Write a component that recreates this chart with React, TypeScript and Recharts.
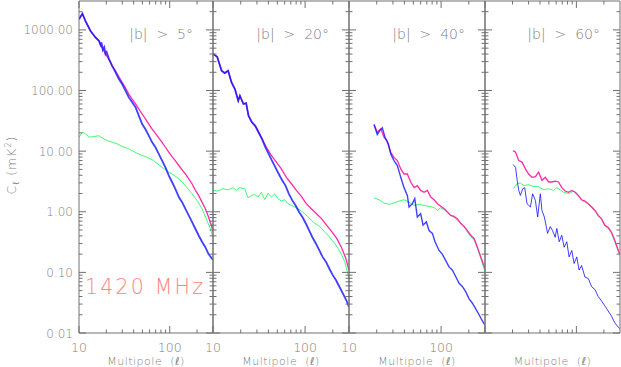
import { Line, LineChart, XAxis, YAxis } from 'recharts'

// 4 panels of the 1420 MHz angular power spectrum, one per latitude cut.
// Each series is a list of [multipole, C_l in mK^2].
type Pt = [number, number]

const p1Blue: Pt[] = [
  [10, 1500], [10.9, 1850], [11.8, 1400], [13.4, 960], [15.2, 750], [16.6, 660], [17.3, 560],
  [17.7, 620], [18.3, 470], [19.0, 520], [19.6, 400], [20.2, 430], [21.4, 330], [23.2, 256],
  [25.3, 199], [27.5, 155], [29.9, 128], [32.6, 99], [35.4, 77], [38.5, 64], [42, 53],
  [45.6, 38.5], [49.7, 28], [54, 23], [58.8, 18], [64, 14], [69.6, 11.6], [75.7, 9.0],
  [82.4, 7.0], [89.7, 5.4], [97.5, 4.0], [106, 3.1], [115, 2.4], [126, 1.75], [137, 1.44],
  [149, 1.12], [162, 0.87], [176, 0.68], [191, 0.53], [208, 0.41], [227, 0.32], [247, 0.26],
  [268, 0.2], [300, 0.16],
]
const p1Pink: Pt[] = [
  [10, 1500], [10.9, 1850], [11.8, 1400], [13.4, 960], [15.2, 750], [16.6, 660], [18, 510],
  [19.6, 400], [21.4, 330], [23.2, 256], [25.3, 212], [27.5, 169], [29.9, 136], [32.6, 110],
  [35.4, 87.5], [38.5, 72], [42, 60], [45.6, 50], [49.7, 41], [54, 34], [58.8, 28], [64, 23],
  [69.6, 19.7], [75.7, 16.5], [82.4, 14], [89.7, 11.6], [97.5, 9.6], [106, 8.1], [115, 7.0],
  [126, 5.8], [137, 4.9], [149, 4.2], [162, 3.5], [176, 2.9], [191, 2.3], [208, 1.86],
  [227, 1.44], [247, 1.12], [268, 0.82], [300, 0.49],
]
const p1Green: Pt[] = [
  [10, 17], [10.9, 20.5], [11.8, 19.3], [12.9, 17], [14.6, 17.4], [16.6, 18], [18, 16.5],
  [20.5, 14.9], [23.2, 14], [26.4, 13.2], [29.9, 11.9], [34, 11.2], [38.5, 10.2], [43.8, 9.2],
  [49.7, 8.5], [56.4, 7.9], [64, 7.2], [72.6, 6.3], [82.4, 5.4], [93.5, 4.7], [106, 4.2],
  [120, 3.7], [137, 3.1], [155, 2.5], [176, 1.98], [200, 1.54], [227, 1.12], [257, 0.72],
  [280, 0.53], [300, 0.38],
]

const p2Blue: Pt[] = [
  [10, 400], [11.1, 360], [12.4, 212], [13.4, 194], [14.6, 212], [15.9, 136], [17.3, 106],
  [18.8, 68], [19.6, 82], [21.4, 60], [22.9, 62], [24.3, 38.5], [26.4, 30], [28.7, 26.4],
  [31.2, 20.5], [34, 15.9], [37, 11.6], [40.2, 9.0], [43.7, 7.0], [47.6, 5.4], [51.8, 4.2],
  [56.4, 3.3], [61.3, 2.7], [66.7, 1.98], [72.6, 1.54], [79, 1.27], [86, 0.99], [93.5, 0.82],
  [102, 0.64], [111, 0.49], [120, 0.38], [131, 0.3], [143, 0.23], [155, 0.18], [169, 0.149],
  [183, 0.116], [200, 0.09], [217, 0.074], [236, 0.058], [257, 0.045], [280, 0.035], [300, 0.027],
]
const p2Pink: Pt[] = [
  [10, 400], [11.1, 360], [12.4, 212], [13.4, 194], [14.6, 212], [15.9, 136], [17.3, 106],
  [18.8, 68], [19.6, 82], [21.4, 60], [22.9, 62], [24.3, 38.5], [26.4, 30], [29.6, 24.2],
  [33.5, 17], [38, 11.6], [43, 8.5], [48.8, 6.6], [55.3, 5.1], [62.7, 3.7], [71, 2.9],
  [80.5, 2.25], [91.2, 1.79], [103, 1.36], [117, 1.12], [133, 0.93], [151, 0.77], [171, 0.6],
  [193, 0.48], [219, 0.37], [248, 0.26], [277, 0.17], [300, 0.109],
]
const p2Green: Pt[] = [
  [10, 2.25], [11.3, 2.2], [12.8, 2.4], [14.6, 2.3], [16.5, 2.5], [17.9, 2.25], [19.5, 2.5],
  [22.1, 2.4], [24, 1.7], [26.1, 1.86], [28.4, 1.93], [30.8, 1.75], [33.5, 2.1], [36.5, 1.58],
  [39.6, 2.03], [43, 1.75], [46.8, 1.98], [50.9, 1.64], [55.3, 1.5], [60.1, 1.58], [65.3, 1.36],
  [71, 1.27], [77.3, 1.2], [84, 1.12], [91.2, 1.03], [99, 0.93], [108, 0.82], [117, 0.72],
  [127, 0.65], [138, 0.6], [151, 0.53], [164, 0.46], [178, 0.41], [193, 0.35], [210, 0.3],
  [228, 0.25], [248, 0.2], [270, 0.149], [300, 0.079],
]

const p3Blue: Pt[] = [
  [18.7, 27.4], [20.3, 18.8], [21.6, 21.8], [23, 24.2], [24.6, 17], [26.7, 13.2], [28.4, 9.0],
  [30.8, 7.0], [33.5, 5.8], [36.5, 3.7], [39.6, 2.5], [43, 1.86], [44.9, 1.2], [48.8, 1.36],
  [51.8, 1.64], [55.2, 0.82], [60, 0.93], [63.7, 0.6], [69.2, 0.68], [74, 0.49], [80.5, 0.44],
  [86, 0.32], [95, 0.23], [103, 0.2], [112, 0.158], [122, 0.123], [133, 0.109], [145, 0.084],
  [157, 0.066], [171, 0.058], [185, 0.048], [201, 0.037], [219, 0.031], [238, 0.025],
  [259, 0.02], [277, 0.0164], [300, 0.0135],
]
const p3Pink: Pt[] = [
  [18.7, 27.4], [20.3, 20.5], [22.1, 23.3], [24, 17], [26, 14.6], [28.4, 9.6], [30.8, 7.9],
  [33.5, 7.0], [36.5, 5.1], [39.6, 4.2], [43, 4.2], [46.8, 3.1], [50.9, 2.5], [55.2, 2.7],
  [60, 2.25], [65.3, 2.1], [71, 2.25], [77.3, 1.75], [84, 1.58], [91.3, 1.36], [99.3, 1.23],
  [108, 1.12], [117, 0.99], [127, 0.87], [138, 0.84], [150, 0.77], [164, 0.64], [178, 0.57],
  [193, 0.49], [210, 0.41], [229, 0.36], [248, 0.26], [270, 0.18], [300, 0.116],
]
const p3Green: Pt[] = [
  [18.7, 1.7], [21.2, 1.58], [24, 1.39], [27.2, 1.33], [30.8, 1.39], [34.9, 1.5], [39.6, 1.58],
  [44.9, 1.44], [50.9, 1.27], [57.7, 1.33], [65.3, 1.27], [74, 1.23], [84, 1.17], [91.3, 1.05],
  [99.3, 1.17], [108, 1.08], [117, 0.99], [127, 0.87], [138, 0.81], [150, 0.72], [164, 0.64],
  [178, 0.57], [193, 0.46], [210, 0.39], [229, 0.34], [248, 0.25], [270, 0.17], [300, 0.102],
]

const p4Blue: Pt[] = [
  [20.3, 6.0], [21.6, 5.4], [22.5, 3.3], [23.4, 2.25], [24.4, 1.86], [25.9, 2.4], [27.2, 2.5],
  [28.8, 1.36], [31.4, 1.2], [33.2, 1.98], [35.6, 1.54], [37.7, 0.82], [40.3, 1.98], [42, 1.05],
  [44.6, 0.82], [48.4, 0.44], [51.8, 0.57], [54.8, 0.49], [58.6, 0.38], [61.1, 0.53],
  [64.9, 0.32], [69.2, 0.41], [73.4, 0.26], [78.5, 0.32], [83.2, 0.18], [89, 0.23], [94.4, 0.14],
  [101, 0.18], [107, 0.109], [114, 0.13], [124, 0.084], [135, 0.079], [147, 0.058], [160, 0.052],
  [173, 0.04], [188, 0.034], [205, 0.028], [223, 0.023], [242, 0.019], [263, 0.0147], [291, 0.0122],
  [300, 0.0118],
]
const p4Pink: Pt[] = [
  [20.3, 10.2], [21.6, 9.6], [23.4, 7.0], [25.4, 6.6], [27.7, 5.1], [30, 4.2], [32.7, 3.7],
  [35.6, 3.8], [38.6, 4.5], [42, 3.3], [45.7, 3.7], [49.7, 3.1], [54, 3.1], [58.6, 3.2],
  [63.7, 3.1], [69.2, 2.5], [75.3, 2.2], [81.8, 2.1], [89, 2.25], [96.8, 2.1], [105, 1.86],
  [114, 1.58], [124, 1.5], [135, 1.36], [147, 1.2], [160, 1.05], [173, 0.87], [188, 0.77],
  [205, 0.6], [223, 0.55], [242, 0.46], [263, 0.34], [291, 0.22], [300, 0.2],
]
const p4Green: Pt[] = [
  [20.3, 2.4], [22.5, 2.9], [24.4, 2.98], [26.6, 2.7], [30, 2.8], [34.1, 2.6], [38.6, 2.6],
  [43.8, 2.3], [49.7, 2.4], [56.2, 2.25], [61.1, 2.5], [66.5, 2.3], [72.3, 2.1], [78.5, 2.03],
  [85.4, 2.03], [92.8, 2.2], [101, 2.03], [105, 1.82], [114, 1.55], [124, 1.46], [135, 1.33],
  [147, 1.17], [160, 1.02], [173, 0.85], [188, 0.75], [205, 0.58], [223, 0.53], [242, 0.44],
  [263, 0.32], [291, 0.21], [300, 0.19],
]

const X_TICKS = [10, 20, 30, 40, 50, 60, 70, 80, 90, 100, 200]
const Y_TICKS: number[] = []
for (let e = -2; e <= 3; e++) {
  for (let m = 1; m <= 9; m++) {
    const v = Number((m * Math.pow(10, e)).toPrecision(3))
    if (v <= 2000) Y_TICKS.push(v)
  }
}
const TITLES = ['|b|  >  5°', '|b|  >  20°', '|b|  >  40°', '|b|  >  60°']

const BLUE = '#1010ff'
const PINK = '#ff2aa8'
const GREEN = '#3cff74'
const AXIS = '#707070'
const TEXT = '#808080'
const FONT = '"DejaVu Sans", sans-serif'

const W = 621
const H = 367
const PLOT_BOTTOM = 333

const panels = [
  { left: 79, right: 213, blue: p1Blue, pink: p1Pink, green: p1Green, yLabels: true, xLabels: true, blueW: 1.8 },
  { left: 213, right: 349, blue: p2Blue, pink: p2Pink, green: p2Green, yLabels: false, xLabels: true, blueW: 1.8 },
  { left: 349, right: 485, blue: p3Blue, pink: p3Pink, green: p3Green, yLabels: false, xLabels: true, blueW: 1.4 },
  { left: 485, right: 620, blue: p4Blue, pink: p4Pink, green: p4Green, yLabels: false, xLabels: false, blueW: 1 },
]

const rows = (pts: Pt[]) => pts.map(([l, v]) => ({ l, v }))
const isDecade = (v: number) => Math.abs(Math.log10(v) - Math.round(Math.log10(v))) < 1e-6

// ticks point inward on every side, IDL style
function bottomTick(showLabels: boolean) {
  return (p: any) => {
    const major = isDecade(p.payload.value)
    return (
      <g>
        <line x1={p.x} x2={p.x} y1={p.y} y2={p.y - (major ? 7 : 3.5)} stroke={AXIS} />
        {showLabels && major && (
          <text x={p.x} y={p.y + 19} textAnchor="middle" fontSize={12.5} fontFamily={FONT} fill={TEXT}
            fontWeight={200}>
            {p.payload.value}
          </text>
        )}
      </g>
    )
  }
}
const topTick = (p: any) => (
  <line x1={p.x} x2={p.x} y1={p.y} y2={p.y + (isDecade(p.payload.value) ? 7 : 3.5)} stroke={AXIS} />
)
function leftTick(showLabels: boolean) {
  return (p: any) => {
    const major = isDecade(p.payload.value)
    return (
      <g>
        <line x1={p.x} x2={p.x + (major ? 7 : 3.5)} y1={p.y} y2={p.y} stroke={AXIS} />
        {showLabels && major && (
          <text x={p.x - 6} y={p.y + 4.5} textAnchor="end" fontSize={12} fontFamily={FONT} fill={TEXT}
            fontWeight={200}>
            {p.payload.value.toFixed(2)}
          </text>
        )}
      </g>
    )
  }
}
const rightTick = (p: any) => (
  <line x1={p.x} x2={p.x - (isDecade(p.payload.value) ? 7 : 3.5)} y1={p.y} y2={p.y} stroke={AXIS} />
)

function Panel({ cfg }: { cfg: (typeof panels)[number] }) {
  const yW = cfg.yLabels ? cfg.left : 1
  const xAxisCommon = {
    type: 'number' as const,
    dataKey: 'l',
    scale: 'log' as const,
    domain: [10, 300],
    allowDataOverflow: true,
    ticks: X_TICKS,
    interval: 0 as const,
    tickSize: 0,
    tickMargin: 0,
    tickLine: false,
    axisLine: { stroke: AXIS },
  }
  const yAxisCommon = {
    type: 'number' as const,
    scale: 'log' as const,
    domain: [0.01, 3000],
    allowDataOverflow: true,
    ticks: Y_TICKS,
    interval: 0 as const,
    tickSize: 0,
    tickMargin: 0,
    tickLine: false,
    axisLine: { stroke: AXIS },
    width: yW,
  }
  return (
    <div style={{ position: 'absolute', left: 0, top: 0 }}>
      <LineChart
        width={W}
        height={H}
        margin={{ top: 0, bottom: 0, left: cfg.left - yW, right: W - cfg.right - 1 }}
      >
        <XAxis xAxisId="b" {...xAxisCommon} height={H - PLOT_BOTTOM} tick={bottomTick(cfg.xLabels)} />
        <XAxis xAxisId="t" {...xAxisCommon} orientation="top" height={1} tick={topTick} />
        <YAxis yAxisId="l" {...yAxisCommon} tick={leftTick(cfg.yLabels)} />
        <YAxis yAxisId="r" {...yAxisCommon} width={1} orientation="right" tick={rightTick} />
        <Line xAxisId="b" yAxisId="l" data={rows(cfg.green)} dataKey="v" stroke={GREEN} strokeWidth={1}
          dot={false} isAnimationActive={false} />
        <Line xAxisId="b" yAxisId="l" data={rows(cfg.pink)} dataKey="v" stroke={PINK} strokeWidth={1.3}
          dot={false} isAnimationActive={false} />
        <Line xAxisId="b" yAxisId="l" data={rows(cfg.blue)} dataKey="v" stroke={BLUE} strokeOpacity={0.8}
          strokeWidth={cfg.blueW} dot={false} isAnimationActive={false} />
      </LineChart>
    </div>
  )
}

export default function App() {
  return (
    <div style={{ position: 'absolute', left: 0, top: 0, width: W, height: H, background: '#fff' }}>
      {panels.map((p, i) => (
        <Panel key={i} cfg={p} />
      ))}
      <svg width={W} height={H} style={{ position: 'absolute', left: 0, top: 0, pointerEvents: 'none' }}>
        <text transform="translate(16,165) rotate(-90)" textAnchor="middle" fontSize={12.5} fontFamily={FONT}
          fill={TEXT} fontWeight={200} letterSpacing={1}>
          C<tspan fontSize={9} dy={3}>ℓ</tspan>
          <tspan dy={-3}> (mK</tspan>
          <tspan fontSize={8} dy={-5}>2</tspan>
          <tspan dy={5}>)</tspan>
        </text>
        {panels.map((p, i) => (
          <text key={i} x={p.right - 20} y={39} textAnchor="end" fontSize={14} fontFamily={FONT} fill={TEXT}
            fontWeight={200} style={{ whiteSpace: 'pre' }}>
            {TITLES[i]}
          </text>
        ))}
        {panels.map((p, i) => (
          <text key={i} x={(p.left + p.right) / 2} y={365} textAnchor="middle" fontSize={11}
            fontFamily={FONT} fill={TEXT} fontWeight={200} letterSpacing={0.5} style={{ whiteSpace: 'pre' }}>
            Multipole  (<tspan fontStyle="italic">ℓ</tspan>)
          </text>
        ))}
        <text x={85} y={294} fontSize={20.5} fontFamily={FONT} fill="#ff8585" fontWeight={200} letterSpacing={2.2}>
          1420 MHz
        </text>
      </svg>
    </div>
  )
}
